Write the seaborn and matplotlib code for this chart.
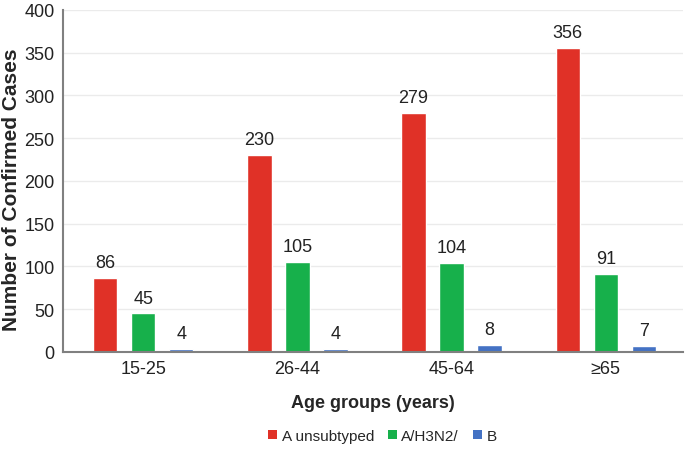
import matplotlib
matplotlib.use("Agg")
import matplotlib.pyplot as plt
import seaborn as sns
import pandas as pd
from matplotlib.patches import Patch

categories = ["15-25", "26-44", "45-64", "\u226565"]
series = ["A unsubtyped", "A/H3N2/", "B"]
a_unsub = [86, 230, 279, 356]
a_h3n2 = [45, 105, 104, 91]
b_vals = [4, 4, 8, 7]
colors = ["#E03127", "#17B04B", "#4472C4"]

rows = []
for s, vals in zip(series, [a_unsub, a_h3n2, b_vals]):
    for c, v in zip(categories, vals):
        rows.append({"Age": c, "Series": s, "Value": v})
df = pd.DataFrame(rows)

sns.set_theme(style="whitegrid")
plt.rcParams['font.family'] = ['Liberation Sans', 'DejaVu Sans']

fig = plt.figure(figsize=(6.85, 4.56), dpi=100)
ax = fig.add_axes([0.092, 0.226, 0.905, 0.75])
sns.barplot(data=df, x="Age", y="Value", hue="Series", palette=colors,
            order=categories, hue_order=series, width=0.74, gap=0.36,
            ax=ax, legend=False, saturation=1)

for cont in ax.containers:
    ax.bar_label(cont, labels=[f"{int(v)}" for v in cont.datavalues],
                 padding=5, fontsize=13, color="#222222")

ax.set_ylim(0, 400)
ax.set_xlim(-0.52, 3.5)
ax.set_yticks(range(0, 401, 50))
ax.tick_params(axis='both', labelsize=13, colors="#222222", length=0, pad=6)
ax.grid(axis='y', color="#ebebeb", linewidth=1)
ax.grid(axis='x', visible=False)
for side in ["top", "right"]:
    ax.spines[side].set_visible(False)
for side in ["left", "bottom"]:
    ax.spines[side].set_visible(True)
    ax.spines[side].set_color("#808080")
    ax.spines[side].set_linewidth(1.5)

ax.set_ylabel("Number of Confirmed Cases", fontsize=15, fontweight="bold")
ax.yaxis.set_label_coords(-0.067, 0.477)
ax.set_xlabel("Age groups (years)", fontsize=13, fontweight="bold", labelpad=12)

handles = [Patch(facecolor=c, edgecolor='none') for c in colors]
fig.legend(handles, series, loc="center", bbox_to_anchor=(0.558, 0.042), ncol=3,
           frameon=False, fontsize=11, handlelength=0.6, handleheight=0.6,
           handletextpad=0.3, columnspacing=0.9)

fig.savefig("out.png", dpi=100)
